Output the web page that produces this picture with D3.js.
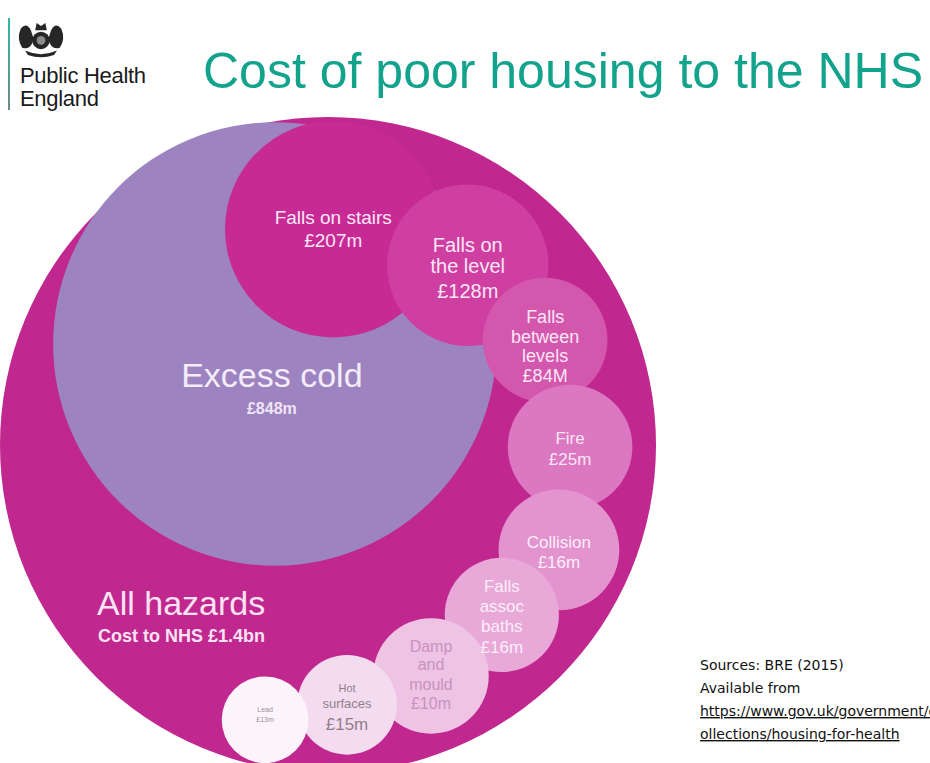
<!DOCTYPE html>
<html>
<head>
<meta charset="utf-8">
<script src="https://cdn.jsdelivr.net/npm/d3@7"></script>
<style>
  body { margin: 0; background: #ffffff; }
  svg { display: block; }
</style>
</head>
<body>
<div id="chart"></div>
<script>

// hazards, biggest first
var hazard_names = [ 'All hazards', 'Excess cold', 'Falls on stairs', 'Falls on the level',
    'Falls between levels', 'Fire', 'Collision', 'Falls assoc baths', 'Damp and mould',
    'Hot surfaces', 'Lead' ];

// cost to the NHS, £ millions
var hazard_costs = [ 1400, 848, 207, 128, 84, 25, 16, 16, 10, 15, 13 ];

// label lines as printed in each bubble
var hazard_labels = [
    [ 'All hazards', 'Cost to NHS £1.4bn' ],
    [ 'Excess cold', '£848m' ],
    [ 'Falls on stairs', '£207m' ],
    [ 'Falls on', 'the level', '£128m' ],
    [ 'Falls', 'between', 'levels', '£84M' ],
    [ 'Fire', '£25m' ],
    [ 'Collision', '£16m' ],
    [ 'Falls', 'assoc', 'baths', '£16m' ],
    [ 'Damp', 'and', 'mould', '£10m' ],
    [ 'Hot', 'surfaces', '£15m' ],
    [ 'Lead', '£13m' ]
];

var source_lines = [ 'Sources: BRE (2015)', 'Available from',
    'https://www.gov.uk/government/c', 'ollections/housing-for-health' ];

// bubble layout, in layout units (0..100 across the big bubble)
var layout = [
    { x: 50.0, y: 50.0, r: 50.0 },
    { x: 41.9, y: 34.6, r: 33.8 },
    { x: 50.8, y: 17.1, r: 16.5 },
    { x: 71.3, y: 22.6, r: 12.3 },
    { x: 83.1, y: 34.0, r: 9.5 },
    { x: 86.9, y: 50.3, r: 9.5 },
    { x: 85.2, y: 66.0, r: 9.2 },
    { x: 76.5, y: 75.9, r: 8.7 },
    { x: 65.7, y: 85.2, r: 8.8 },
    { x: 52.9, y: 89.6, r: 7.6 },
    { x: 40.4, y: 91.9, r: 6.6 }
];

var bubble_fill = [ '#c0288f', '#9d83bf', '#c72a94', '#cf3fa1', '#d457ae', '#dc77c1',
    '#e394cf', '#e8a8d8', '#eec3e4', '#f4dcf0', '#fcf4fa' ];

var label_fill = [ '#fbe3f4', '#f4ecfa', '#fde6f6', '#fde6f6', '#fde6f6', '#fde6f6',
    '#fdeefa', '#fdeefa', '#c992be', '#8f7f8d', '#9a8f98' ];

// per-line font sizes and baseline offsets from the bubble centre
var label_size = [ null, null, [ 19, 19 ], [ 20, 20, 20 ], [ 18, 18, 18, 18 ], [ 17, 17 ],
    [ 17, 17 ], [ 17, 17, 17, 17 ], [ 16, 16, 16, 16 ], [ 11, 13, 17 ], [ 7, 7 ] ];
var label_dy = [ null, null, [ -5, 18 ], [ -13, 8, 33 ], [ -17, 3, 22, 42 ], [ -3, 18 ],
    [ -2, 18 ], [ -23, -3, 17, 38 ], [ -24, -6, 14, 33 ], [ -13, 3, 25 ], [ -8, 2 ] ];

var width = 930;
var height = 763;
var font = 'Liberation Sans, Arial, sans-serif';

var svg = d3.select( '#chart' ).append( 'svg' )
    .attr( 'width', width )
    .attr( 'height', height );

var x = d3.scaleLinear().domain( [ 0, 100 ] ).range( [ 0, 656 ] );
var y = d3.scaleLinear().domain( [ 0, 100 ] ).range( [ 117, 773 ] );
var r = d3.scaleLinear().domain( [ 0, 100 ] ).range( [ 0, 656 ] );

var data = hazard_names.map( function ( name, i ) {
    return {
        name: name,
        cost: hazard_costs[ i ],
        lines: hazard_labels[ i ],
        pos: layout[ i ],
        i: i
    };
});

// header
var rule = svg.append( 'defs' ).append( 'linearGradient' )
    .attr( 'id', 'rule' )
    .attr( 'x1', 0 ).attr( 'x2', 0 ).attr( 'y1', 0 ).attr( 'y2', 1 );
rule.append( 'stop' ).attr( 'offset', '0%' ).attr( 'stop-color', '#2fb8a6' );
rule.append( 'stop' ).attr( 'offset', '100%' ).attr( 'stop-color', '#6f8a86' );

svg.append( 'rect' )
    .attr( 'x', 8 ).attr( 'y', 18 )
    .attr( 'width', 2 ).attr( 'height', 92 )
    .attr( 'fill', 'url(#rule)' );

var crest = svg.append( 'g' )
    .attr( 'transform', 'translate(41,39) scale(1.45)' )
    .attr( 'fill', '#262626' );

crest.append( 'circle' ).attr( 'cx', 0 ).attr( 'cy', 1 ).attr( 'r', 6 );
crest.append( 'circle' ).attr( 'cx', 0 ).attr( 'cy', 1 ).attr( 'r', 3 ).attr( 'fill', '#8a8a8a' );
crest.append( 'path' ).attr( 'd', 'M-14,-7 q4,-5 7,1 l2,6 q-2,8 -8,6 q-4,-6 -1,-13z' );
crest.append( 'path' ).attr( 'd', 'M14,-7 q-4,-5 -7,1 l-2,6 q2,8 8,6 q4,-6 1,-13z' );
crest.append( 'path' ).attr( 'd', 'M-4,-6 l1,-5 l3,2 l3,-2 l1,5 z' );
crest.append( 'path' ).attr( 'd', 'M-11,8 q11,5 22,0 l-2,3 q-9,3 -18,0z' );

svg.append( 'text' )
    .attr( 'x', 20 ).attr( 'y', 83 )
    .attr( 'font-family', font )
    .attr( 'font-size', 22 )
    .attr( 'letter-spacing', -0.3 )
    .attr( 'fill', '#1a1a1a' )
    .text( 'Public Health' );

svg.append( 'text' )
    .attr( 'x', 20 ).attr( 'y', 106 )
    .attr( 'font-family', font )
    .attr( 'font-size', 22 )
    .attr( 'letter-spacing', -0.3 )
    .attr( 'fill', '#1a1a1a' )
    .text( 'England' );

svg.append( 'text' )
    .attr( 'x', 203 ).attr( 'y', 88 )
    .attr( 'font-family', font )
    .attr( 'font-size', 50 )
    .attr( 'textLength', 720 )
    .attr( 'lengthAdjust', 'spacingAndGlyphs' )
    .attr( 'fill', '#13a38d' )
    .text( 'Cost of poor housing to the NHS' );

// bubbles
svg.append( 'g' ).selectAll( 'circle' )
    .data( data )
    .join( 'circle' )
    .attr( 'cx', function ( d ) { return x( d.pos.x ); } )
    .attr( 'cy', function ( d ) { return y( d.pos.y ); } )
    .attr( 'r', function ( d ) { return r( d.pos.r ); } )
    .attr( 'fill', function ( d ) { return bubble_fill[ d.i ]; } );

// labels inside the small bubbles
var labels = svg.append( 'g' )
    .attr( 'font-family', font )
    .attr( 'text-anchor', 'middle' );

data.slice( 2 ).forEach( function ( d ) {

    var cx = x( d.pos.x );
    var cy = y( d.pos.y );

    var t = labels.append( 'text' )
        .attr( 'fill', label_fill[ d.i ] );

    d.lines.forEach( function ( line, k ) {
        t.append( 'tspan' )
            .attr( 'x', cx )
            .attr( 'y', cy + label_dy[ d.i ][ k ] )
            .attr( 'font-size', label_size[ d.i ][ k ] )
            .text( line );
    });

});

// excess cold
var cold = data[ 1 ];
labels.append( 'text' )
    .attr( 'x', x( cold.pos.x ) - 3 )
    .attr( 'y', y( cold.pos.y ) + 43 )
    .attr( 'font-size', 34 )
    .attr( 'fill', label_fill[ 1 ] )
    .text( cold.lines[ 0 ] );

labels.append( 'text' )
    .attr( 'x', x( cold.pos.x ) - 3 )
    .attr( 'y', y( cold.pos.y ) + 70 )
    .attr( 'font-size', 16 )
    .attr( 'font-weight', 'bold' )
    .attr( 'fill', '#f1e4f7' )
    .text( cold.lines[ 1 ] );

// all hazards
var all = data[ 0 ];
svg.append( 'text' )
    .attr( 'x', 97 ).attr( 'y', 615 )
    .attr( 'font-family', font )
    .attr( 'font-size', 34 )
    .attr( 'fill', label_fill[ 0 ] )
    .text( all.lines[ 0 ] );

svg.append( 'text' )
    .attr( 'x', 98 ).attr( 'y', 642 )
    .attr( 'font-family', font )
    .attr( 'font-size', 18 )
    .attr( 'font-weight', 'bold' )
    .attr( 'fill', label_fill[ 0 ] )
    .text( all.lines[ 1 ] );

// sources
var src = svg.append( 'g' )
    .attr( 'font-family', 'DejaVu Sans, sans-serif' )
    .attr( 'font-size', 14 )
    .attr( 'fill', '#111' );

source_lines.forEach( function ( line, k ) {
    src.append( 'text' )
        .attr( 'x', 700 )
        .attr( 'y', 670 + k * 23 )
        .attr( 'text-decoration', k >= 2 ? 'underline' : null )
        .text( line );
});

</script>
</body>
</html>
